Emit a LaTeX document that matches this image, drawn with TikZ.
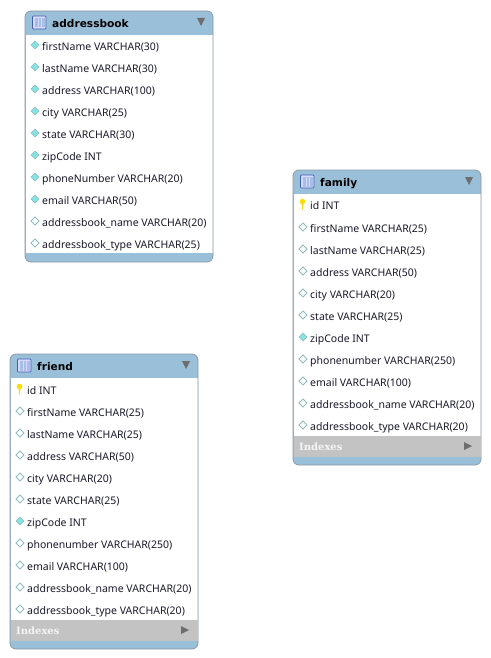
\documentclass[tikz,border=0pt]{standalone}
\usepackage{fontspec}
\setmainfont{DejaVu Sans}
\newfontfamily\rowfont{Noto Sans}
\newfontfamily\headfont{DejaVu Sans}
\newfontfamily\idxfont{DejaVu Serif}
\definecolor{hdr}{HTML}{9ABFD9}
\definecolor{edge}{HTML}{8C9AA5}
\definecolor{idxbg}{HTML}{C3C3C3}
\definecolor{tricol}{HTML}{6E6E6E}
\definecolor{rowtxt}{HTML}{1A1A2A}
\definecolor{teal}{HTML}{85E3E3}
\definecolor{tealedge}{HTML}{8FBDBD}
\definecolor{iconedge}{HTML}{3F5FB0}
\definecolor{iconfill}{HTML}{A9BEE6}
\tikzset{
  x=1pt,y=-1pt,
  rowtext/.style={anchor=west,inner sep=0pt,text height=8pt,text depth=2.5pt,font=\rowfont\fontsize{10.5}{12}\selectfont,text=rowtxt},
  titletext/.style={anchor=west,inner sep=0pt,text height=8.5pt,text depth=2.5pt,font=\headfont\bfseries\fontsize{10.6}{13}\selectfont,text=black},
  idxtext/.style={anchor=west,inner sep=0pt,text height=7.5pt,text depth=0pt,font=\idxfont\bfseries\fontsize{10}{12}\selectfont,text=white!92!gray},
  filldia/.style={fill=teal,draw=tealedge,line width=.5pt},
  opendia/.style={fill=white,draw=tealedge,line width=.8pt},
  keyic/.style={fill=yellow!80!orange},
}
% #1 name, #2 left, #3 top, #4 bottom of body, #5 bottom of the frame, #6 title
\newcommand{\tablebox}[6]{
  \fill[hdr,rounded corners=6pt] (#2,#3) rectangle (#2+188,#5);
  \fill[white] (#2+.5,#3+24) rectangle (#2+187.5,#4);
  \draw[edge,line width=.8pt,rounded corners=6pt] (#2,#3) rectangle (#2+188,#5);
  \fill[white!85!blue,draw=iconedge,line width=.7pt,rounded corners=.8pt] (#2+7.5,#3+5) rectangle (#2+21,#3+18);
  \fill[iconfill] (#2+9.5,#3+7) rectangle (#2+19.5,#3+16.5);
  \draw[white!85!blue,line width=.5pt] (#2+12.8,#3+7)--(#2+12.8,#3+16.5) (#2+16.1,#3+7)--(#2+16.1,#3+16.5);
  \node[titletext] (#1) at (#2+27,#3+13.5) {#6};
  \fill[tricol] (#2+172,#3+7) -- (#2+180,#3+7) -- (#2+176,#3+15) -- cycle;
}
% #1 left, #2 y, #3 style, #4 name, #5 text
\newcommand{\colrow}[5]{
  \draw[#3] (#1+10,#2-5) -- (#1+14,#2-1) -- (#1+10,#2+3) -- (#1+6,#2-1) -- cycle;
  \node[rowtext] (#4) at (#1+17,#2+1.5) {#5};
}
\newcommand{\keyrow}[4]{
  \fill[keyic] (#1+9.5,#2-3.5) circle (2.8);
  \fill[keyic] (#1+8.5,#2-3) -- (#1+10.5,#2-3) -- (#1+10,#2+4.5) -- (#1+9,#2+4.5) -- cycle;
  \node[rowtext] (#3) at (#1+17,#2+1.5) {#4};
}
\newcommand{\idxbar}[3]{
  \fill[idxbg] (#1+.5,#2) rectangle (#1+187.5,#2+21);
  \node[idxtext] (#3) at (#1+6,#2+10.5) {Indexes};
  \fill[tricol] (#1+171,#2+6) -- (#1+179,#2+10) -- (#1+171,#2+14) -- cycle;
}
\begin{document}
\begin{tikzpicture}
\useasboundingbox (0,0) rectangle (490,658);
\tablebox{ab}{25}{11}{253}{262}{addressbook}
\colrow{25}{46}{filldia}{ab1}{firstName VARCHAR(30)}
\colrow{25}{68}{filldia}{ab2}{lastName VARCHAR(30)}
\colrow{25}{90}{filldia}{ab3}{address VARCHAR(100)}
\colrow{25}{112}{filldia}{ab4}{city VARCHAR(25)}
\colrow{25}{134}{filldia}{ab5}{state VARCHAR(30)}
\colrow{25}{156}{filldia}{ab6}{zipCode INT}
\colrow{25}{178}{filldia}{ab7}{phoneNumber VARCHAR(20)}
\colrow{25}{200}{filldia}{ab8}{email VARCHAR(50)}
\colrow{25}{222}{opendia}{ab9}{addressbook\_name VARCHAR(20)}
\colrow{25}{244}{opendia}{ab10}{addressbook\_type VARCHAR(25)}

\tablebox{fa}{293}{170}{436}{465}{family}
\keyrow{293}{205}{fa0}{id INT}
\colrow{293}{228}{opendia}{fa1}{firstName VARCHAR(25)}
\colrow{293}{250}{opendia}{fa2}{lastName VARCHAR(25)}
\colrow{293}{272}{opendia}{fa3}{address VARCHAR(50)}
\colrow{293}{294}{opendia}{fa4}{city VARCHAR(20)}
\colrow{293}{316}{opendia}{fa5}{state VARCHAR(25)}
\colrow{293}{338}{filldia}{fa6}{zipCode INT}
\colrow{293}{360}{opendia}{fa7}{phonenumber VARCHAR(250)}
\colrow{293}{382}{opendia}{fa8}{email VARCHAR(100)}
\colrow{293}{404}{opendia}{fa9}{addressbook\_name VARCHAR(20)}
\colrow{293}{426}{opendia}{fa10}{addressbook\_type VARCHAR(20)}
\idxbar{293}{436}{fai}

\tablebox{fr}{10}{354}{620}{649}{friend}
\keyrow{10}{390}{fr0}{id INT}
\colrow{10}{412}{opendia}{fr1}{firstName VARCHAR(25)}
\colrow{10}{434}{opendia}{fr2}{lastName VARCHAR(25)}
\colrow{10}{456}{opendia}{fr3}{address VARCHAR(50)}
\colrow{10}{478}{opendia}{fr4}{city VARCHAR(20)}
\colrow{10}{500}{opendia}{fr5}{state VARCHAR(25)}
\colrow{10}{522}{filldia}{fr6}{zipCode INT}
\colrow{10}{544}{opendia}{fr7}{phonenumber VARCHAR(250)}
\colrow{10}{566}{opendia}{fr8}{email VARCHAR(100)}
\colrow{10}{588}{opendia}{fr9}{addressbook\_name VARCHAR(20)}
\colrow{10}{610}{opendia}{fr10}{addressbook\_type VARCHAR(20)}
\idxbar{10}{620}{fri}
\end{tikzpicture}
\end{document}
